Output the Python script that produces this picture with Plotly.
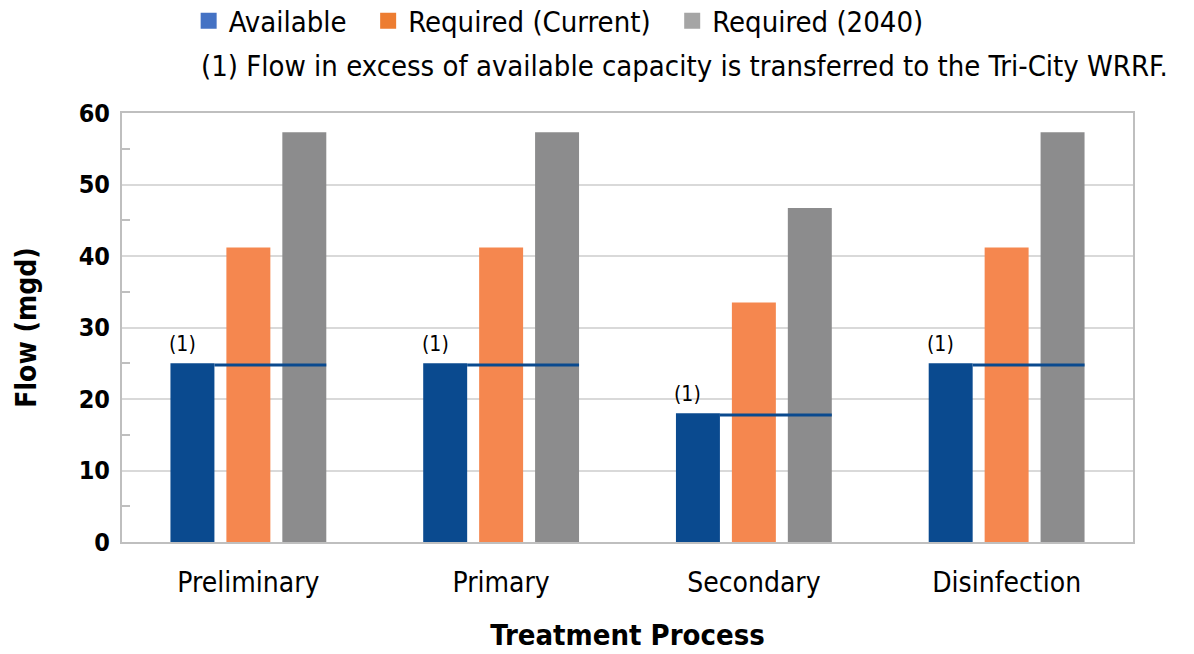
import plotly.graph_objects as go

# Treatment process capacity data (mgd)
processes = ["Preliminary", "Primary", "Secondary", "Disinfection"]
available = [25.0, 25.0, 18.0, 25.0]
required_current = [41.2, 41.2, 33.5, 41.2]
required_2040 = [57.3, 57.3, 46.7, 57.3]
footnote_marks = ["(1)", "(1)", "(1)", "(1)"]

series_names = ["Available", "Required (Current)", "Required (2040)"]
bar_colors = ["#0A4A8F", "#F5874F", "#8C8C8D"]
legend_colors = ["#4472C4", "#ED7D31", "#A5A5A5"]

FONT = "DejaVu Sans Condensed, Liberation Sans Narrow, sans-serif"
BARGAP = 0.336
BARGROUPGAP = 0.214
PAD = "\u00a0\u00a0"

fig = go.Figure()

for name, vals, col in zip(series_names, [available, required_current, required_2040], bar_colors):
    fig.add_trace(go.Bar(x=processes, y=vals, name=name, marker_color=col,
                         marker_line_width=0, showlegend=False))

# legend swatches (marker-only traces so they don't take bar slots)
for name, col in zip(series_names, legend_colors):
    fig.add_trace(go.Scatter(x=[None], y=[None], name=name + PAD, mode="markers",
                             marker=dict(symbol="square", size=16, color=col),
                             showlegend=True))

# capacity line across each group + footnote markers
slot = (1 - BARGAP) / 3
half_bar = slot * (1 - BARGROUPGAP) / 2
left_edge = -(1 - BARGAP) / 2
for i, (cap, mark) in enumerate(zip(available, footnote_marks)):
    x_start = i + left_edge + 0.5 * slot + half_bar
    x_end = i + left_edge + 2.5 * slot + half_bar
    fig.add_shape(type="line", xref="x", yref="y", x0=x_start, x1=x_end,
                  y0=cap - 0.25, y1=cap - 0.25, line=dict(color="#0A4A8F", width=3))
    fig.add_annotation(x=i + left_edge + 0.5 * slot - 0.04, y=cap, xref="x", yref="y",
                       text=mark, showarrow=False, yanchor="bottom", yshift=5,
                       font=dict(family=FONT, size=21, color="#000000"))

fig.add_annotation(xref="x domain", yref="y domain",
                   x=(1170 - 122) / (1133 - 122), y=(542 - 66) / (542 - 113),
                   text="(1) Flow in excess of available capacity is transferred to the Tri-City WRRF.",
                   showarrow=False, xanchor="right", yanchor="middle",
                   font=dict(family=FONT, size=29, color="#000000"))

fig.update_layout(
    width=1194, height=654,
    margin=dict(l=122, r=61, t=113, b=112),
    paper_bgcolor="white", plot_bgcolor="white",
    barmode="group", bargap=BARGAP, bargroupgap=BARGROUPGAP,
    font=dict(family=FONT, color="#000000"),
    legend=dict(orientation="h", x=0.158, y=0.968, xref="container", yref="container",
                xanchor="left", yanchor="middle", font=dict(family=FONT, size=29),
                itemwidth=30, tracegroupgap=0, traceorder="normal"),
    xaxis=dict(showgrid=False, ticks="", tickfont=dict(family=FONT, size=28),
               ticklabelstandoff=14, automargin=False,
               title=dict(text="<b>Treatment Process</b>", font=dict(family=FONT, size=29), standoff=27),
               showline=True, linecolor="#BFBFBF", linewidth=2, mirror=True),
    yaxis=dict(range=[0, 60], dtick=10, showgrid=True, gridcolor="#D9D9D9", gridwidth=2,
               tickfont=dict(family=FONT, size=25, weight="bold"), ticks="", ticklabelstandoff=5,
               automargin=False,
               title=dict(text="<b>Flow (mgd)</b>", font=dict(family=FONT, size=28), standoff=34),
               showline=True, linecolor="#BFBFBF", linewidth=2, mirror=True, zeroline=False,
               minor=dict(dtick=5, ticks="inside", ticklen=8, tickcolor="#BFBFBF", tickwidth=2, showgrid=False)),
)

fig.write_html("out.html")
